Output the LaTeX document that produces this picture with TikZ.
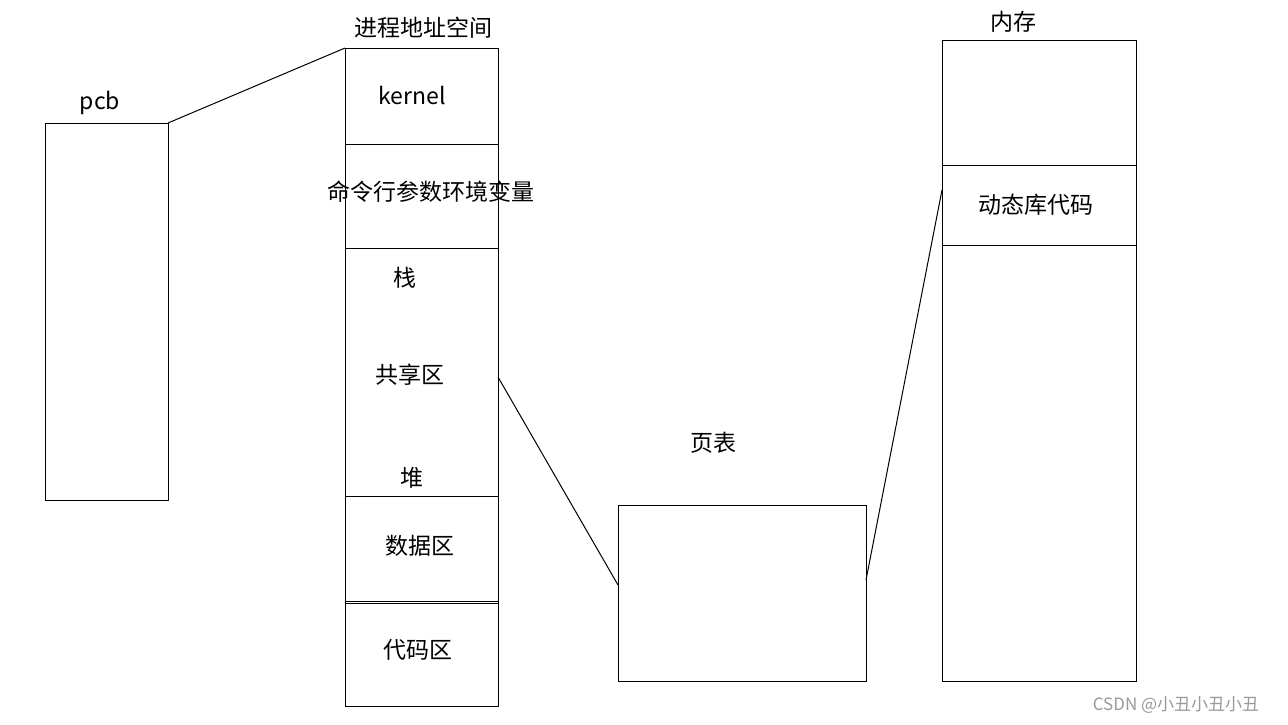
\documentclass[tikz,border=0pt]{standalone}
\usepackage{fontspec}
\setmainfont{Noto Sans CJK SC}
\begin{document}
\begin{tikzpicture}[x=1pt,y=-1pt,
  box/.style={draw=black,line width=1pt},
  lbl/.style={font=\fontsize{23}{26}\selectfont,inner sep=0pt}]
\useasboundingbox[fill=white] (0,0) rectangle (1288,724);
% pcb
\draw[box] (45,123) rectangle (168,500);
\node[lbl] (pcbl) at (100,103) {pcb};
\coordinate (pcbtr) at (168,123);
% address space
\draw[box] (345,48) rectangle (498,706);
\coordinate (astl) at (345,48);
\draw[box] (345,144) -- (498,144);
\draw[box] (345,248) -- (498,248);
\draw[box] (345,496) -- (498,496);
\draw[box] (345,601) -- (498,601);
\draw[box] (345,603.5) -- (498,603.5);
\node[lbl] (asl) at (423,28) {进程地址空间};
\node[lbl] (k) at (412,95) {kernel};
\node[lbl] (env) at (431,192) {命令行参数环境变量};
\node[lbl] (stk) at (405,278) {栈};
\node[lbl] (shr) at (410,375) {共享区};
\node[lbl] (heap) at (412,478) {堆};
\node[lbl] (data) at (420,546) {数据区};
\node[lbl] (code) at (418,650) {代码区};
\coordinate (shrR) at (498,377);
% page table
\draw[box] (618,505) rectangle (866,681);
\node[lbl] (ptl) at (713,443) {页表};
\coordinate (ptL) at (618,585);
\coordinate (ptR) at (866,580);
% memory
\draw[box] (942,40) rectangle (1136,681);
\draw[box] (942,165) -- (1136,165);
\draw[box] (942,245) -- (1136,245);
\node[lbl] (meml) at (1013,22) {内存};
\node[lbl] (dyn) at (1036,205) {动态库代码};
\coordinate (dynL) at (942,190);
% connectors
\draw[line width=1pt] (pcbtr) -- (astl);
\draw[line width=1pt] (shrR) -- (ptL);
\draw[line width=1pt] (ptR) -- (dynL);
% watermark
\node[inner sep=0pt,text=gray!80,font=\fontsize{17}{20}\selectfont] (wm) at (1176,705) {CSDN @小丑小丑小丑};
\end{tikzpicture}
\end{document}
